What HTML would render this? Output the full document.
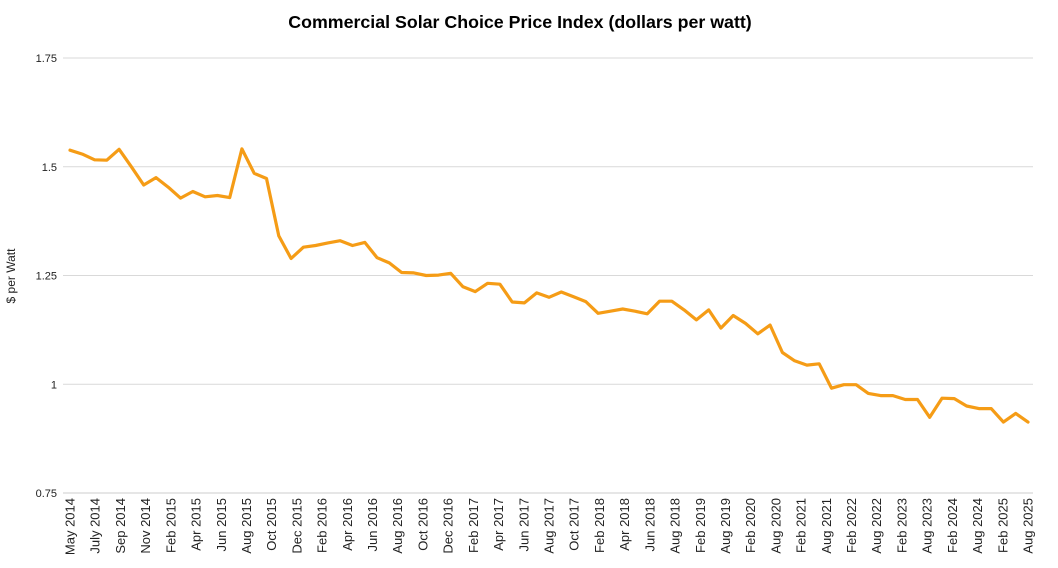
<!DOCTYPE html>
<html><head><meta charset="utf-8"><style>
html,body{margin:0;padding:0;background:#fff;}
svg{display:block;font-family:"Liberation Sans",Arial,sans-serif;}
</style></head><body>
<svg id="chart" width="1058" height="568" viewBox="0 0 1058 568">
<text x="520" y="28" text-anchor="middle" font-size="17.8" font-weight="bold" fill="#000">Commercial Solar Choice Price Index (dollars per watt)</text>
<text transform="translate(15,276) rotate(-90)" text-anchor="middle" font-size="12" fill="#222">$ per Watt</text>
<g id="grid"></g><g id="yticks"></g><g id="xticks"></g><g id="series"></g>
</svg>
<script>
const values = [1.538,1.529,1.516,1.515,1.540,1.500,1.458,1.475,1.453,1.428,1.443,1.431,1.434,1.429,1.541,1.485,1.473,1.341,1.289,1.315,1.319,1.325,1.330,1.319,1.326,1.291,1.279,1.257,1.256,1.250,1.251,1.255,1.224,1.213,1.232,1.230,1.189,1.187,1.210,1.200,1.212,1.201,1.190,1.163,1.168,1.173,1.168,1.162,1.191,1.191,1.171,1.148,1.171,1.129,1.158,1.140,1.116,1.136,1.073,1.054,1.044,1.047,0.991,0.999,0.999,0.979,0.974,0.974,0.965,0.965,0.924,0.968,0.967,0.950,0.944,0.944,0.913,0.933,0.913];
const xLabels = ["May 2014","July 2014","Sep 2014","Nov 2014","Feb 2015","Apr 2015","Jun 2015","Aug 2015","Oct 2015","Dec 2015","Feb 2016","Apr 2016","Jun 2016","Aug 2016","Oct 2016","Dec 2016","Feb 2017","Apr 2017","Jun 2017","Aug 2017","Oct 2017","Feb 2018","Apr 2018","Jun 2018","Aug 2018","Feb 2019","Aug 2019","Feb 2020","Aug 2020","Feb 2021","Aug 2021","Feb 2022","Aug 2022","Feb 2023","Aug 2023","Feb 2024","Aug 2024","Feb 2025","Aug 2025"];
const yTicks = [0.75,1,1.25,1.5,1.75];
const yTickLabels = ["0.75","1","1.25","1.5","1.75"];

const NS="http://www.w3.org/2000/svg";
const X0=70,X1=1028,PL=63,PR=1033,Y0=493,Y1=58,VMIN=0.75,VMAX=1.75;
function yScale(v){return Y0-(v-VMIN)/(VMAX-VMIN)*(Y0-Y1);}
function xScale(i){return X0+i*(X1-X0)/(values.length-1);}
function lScale(i){return X0+i*(X1-X0)/(xLabels.length-1);}
function mk(tag,attrs,parent){const e=document.createElementNS(NS,tag);for(const k in attrs)e.setAttribute(k,attrs[k]);parent.appendChild(e);return e;}
const grid=document.getElementById('grid'),yt=document.getElementById('yticks'),xt=document.getElementById('xticks'),ser=document.getElementById('series');
yTicks.forEach((v,i)=>{
  const y=yScale(v);
  const l=mk('line',{x1:PL,x2:PR,y1:y,y2:y,stroke:i===0?'#cccccc':'#d9d9d9','stroke-width':1},grid);
  
  
  const t=mk('text',{x:57,y:y+4,'text-anchor':'end','font-size':11,fill:'#222'},yt);
  t.textContent=yTickLabels[i];
  
  
});
xLabels.forEach((s,i)=>{
  const x=lScale(i);
  const t=mk('text',{transform:`translate(${x+4.5},498) rotate(-90)`,'text-anchor':'end','font-size':13,fill:'#222'},xt);
  t.textContent=s;
  
  
});
const pts=values.map((v,i)=>xScale(i).toFixed(1)+','+yScale(v).toFixed(1)).join(' ');
const pl=mk('polyline',{points:pts,fill:'none',stroke:'#f59c16','stroke-width':3.2,'stroke-linejoin':'round','stroke-linecap':'round'},ser);


</script>
</body></html>
